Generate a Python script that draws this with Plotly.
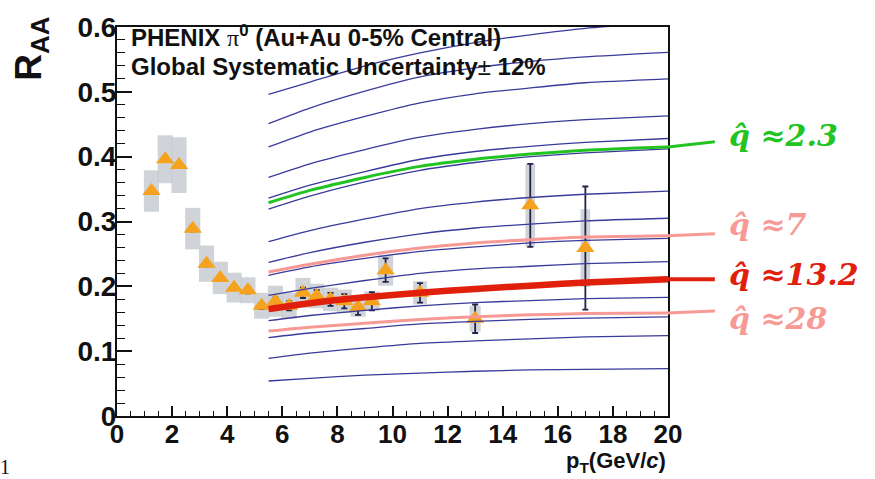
import plotly.graph_objects as go

# ---------------- data ----------------
pt = [1.25, 1.75, 2.25, 2.75, 3.25, 3.75, 4.25, 4.75, 5.25, 5.75, 6.25, 6.75,
      7.25, 7.75, 8.25, 8.75, 9.25, 9.75, 11, 13, 15, 17]
raa = [0.347, 0.396, 0.387, 0.289, 0.235, 0.213, 0.198, 0.194, 0.170, 0.177, 0.170, 0.190,
       0.185, 0.180, 0.177, 0.168, 0.177, 0.225, 0.190, 0.150, 0.325, 0.259]
stat_err = [0.004, 0.004, 0.004, 0.004, 0.004, 0.004, 0.004, 0.005, 0.005, 0.006, 0.007, 0.008,
            0.009, 0.010, 0.011, 0.012, 0.014, 0.018, 0.015, 0.022, 0.064, 0.095]
sys_err = [0.032, 0.037, 0.043, 0.032, 0.028, 0.025, 0.023, 0.020, 0.020, 0.024, 0.020, 0.023,
           0.019, 0.018, 0.018, 0.015, 0.015, 0.024, 0.018, 0.020, 0.064, 0.060]
sys_width = [0.55, 0.55, 0.55, 0.55, 0.55, 0.55, 0.55, 0.55, 0.55, 0.55, 0.55, 0.55,
             0.55, 0.55, 0.55, 0.55, 0.55, 0.55, 0.5, 0.4, 0.35, 0.35]

theory_pt = [5.5, 7, 9, 11, 13, 15, 17, 20]
blue_curves = [
    [0.496, 0.515, 0.540, 0.560, 0.576, 0.588, 0.598, 0.607],
    [0.451, 0.475, 0.501, 0.523, 0.537, 0.547, 0.554, 0.561],
    [0.415, 0.438, 0.462, 0.483, 0.497, 0.506, 0.514, 0.520],
    [0.368, 0.389, 0.411, 0.430, 0.442, 0.451, 0.457, 0.463],
    [0.336, 0.356, 0.377, 0.396, 0.408, 0.416, 0.422, 0.428],
    [0.319, 0.339, 0.361, 0.379, 0.391, 0.400, 0.406, 0.412],
    [0.269, 0.286, 0.304, 0.320, 0.330, 0.337, 0.342, 0.347],
    [0.237, 0.252, 0.268, 0.281, 0.290, 0.296, 0.301, 0.305],
    [0.217, 0.230, 0.243, 0.254, 0.261, 0.267, 0.271, 0.274],
    [0.186, 0.197, 0.209, 0.220, 0.227, 0.231, 0.235, 0.238],
    [0.147, 0.155, 0.163, 0.170, 0.175, 0.178, 0.181, 0.183],
    [0.121, 0.128, 0.135, 0.142, 0.146, 0.149, 0.151, 0.153],
    [0.089, 0.097, 0.105, 0.112, 0.116, 0.119, 0.122, 0.124],
    [0.054, 0.058, 0.063, 0.066, 0.069, 0.071, 0.072, 0.073],
]
qhat_2_3 = [0.329, 0.348, 0.368, 0.385, 0.396, 0.404, 0.410, 0.415]
qhat_7 = [0.222, 0.234, 0.248, 0.259, 0.267, 0.272, 0.276, 0.278]
qhat_13_2 = [0.165, 0.174, 0.183, 0.190, 0.196, 0.201, 0.206, 0.211]
qhat_28 = [0.131, 0.137, 0.143, 0.149, 0.153, 0.156, 0.158, 0.159]

# label connector end values (R_AA at the label) and label positions
label_names = ["q̂ ≈2.3", "q̂ ≈7", "q̂ ≈13.2", "q̂ ≈28"]
label_line_end = [0.423, 0.281, 0.211, 0.162]
label_y = [0.433, 0.295, 0.218, 0.151]
label_colors = ["#22c422", "#f79a96", "#e0200c", "#f79a96"]
curve_sets = [qhat_2_3, qhat_7, qhat_13_2, qhat_28]
curve_widths = [3, 3, 6.5, 3]

x_ticks = [0, 2, 4, 6, 8, 10, 12, 14, 16, 18, 20]
y_ticks = [0, 0.1, 0.2, 0.3, 0.4, 0.5, 0.6]
y_ticklabels = ["0", "0.1", "0.2", "0.3", "0.4", "0.5", "0.6"]

X_RANGE = [0, 20]
Y_RANGE = [0, 0.6]

# ---------------- figure ----------------
fig = go.Figure()

# systematic boxes
fig.add_trace(go.Bar(
    x=pt, y=[2 * s for s in sys_err], base=[r - s for r, s in zip(raa, sys_err)],
    width=sys_width, marker=dict(color="rgba(200,204,210,0.85)", line=dict(width=0)),
    hoverinfo="skip", showlegend=False))

# data points
fig.add_trace(go.Scatter(
    x=pt, y=raa, mode="markers",
    marker=dict(symbol="triangle-up", size=16, color="#f5a21e"),
    error_y=dict(type="data", array=stat_err, color="#23234a", thickness=1.8, width=3),
    showlegend=False))

# theory family
for curve in blue_curves:
    fig.add_trace(go.Scatter(x=theory_pt, y=curve, mode="lines",
                             line=dict(color="#3a3a9c", width=1.3, shape="spline", smoothing=0.6),
                             showlegend=False, hoverinfo="skip"))

for curve, col, w in zip(curve_sets, label_colors, curve_widths):
    fig.add_trace(go.Scatter(x=theory_pt, y=curve, mode="lines",
                             line=dict(color=col, width=w, shape="spline", smoothing=0.6),
                             showlegend=False, hoverinfo="skip"))


def xp(v):
    return (v - X_RANGE[0]) / (X_RANGE[1] - X_RANGE[0])


def yp(v):
    return (v - Y_RANGE[0]) / (Y_RANGE[1] - Y_RANGE[0])


shapes = []
annotations = []
for curve, end, ly, name, col, w in zip(curve_sets, label_line_end, label_y, label_names,
                                        label_colors, curve_widths):
    shapes.append(dict(type="line", xref="paper", yref="paper",
                       x0=xp(20), y0=yp(curve[-1]), x1=1.085, y1=yp(end),
                       line=dict(color=col, width=w if w < 5 else 4)))
    annotations.append(dict(xref="paper", yref="y", x=1.107, y=ly, xanchor="left",
                            yanchor="middle", showarrow=False, text="<i>" + name + "</i>",
                            font=dict(family="DejaVu Serif", size=30, color=col, weight="bold")))

bold_sans = dict(family="Liberation Sans", color="#111", weight="bold")
annotations += [
    dict(xref="paper", yref="paper", x=0.022, y=0.978, xanchor="left", yanchor="middle",
         showarrow=False,
         text="PHENIX <span style='font-family:Liberation Serif;font-weight:normal'>π</span><sup>0</sup> (Au+Au 0-5% Central)",
         font=dict(size=24, **bold_sans)),
    dict(xref="paper", yref="paper", x=0.022, y=0.898, xanchor="left", yanchor="middle",
         showarrow=False,
         text="Global Systematic Uncertainty<span style='font-weight:normal'>±</span> 12%",
         font=dict(size=24, **bold_sans)),
    dict(xref="paper", yref="paper", x=-0.155, y=0.943, xanchor="center", yanchor="middle",
         showarrow=False, textangle=-90, text="R<sub>AA</sub>",
         font=dict(size=37, **bold_sans)),
    dict(xref="paper", yref="paper", x=1.0, y=-0.117, xanchor="right", yanchor="middle",
         showarrow=False, text="p<sub>T</sub>(GeV/<i>c</i>)",
         font=dict(size=22, **bold_sans)),
    dict(xref="paper", yref="paper", x=-0.203, y=-0.13, xanchor="center", yanchor="middle",
         showarrow=False, text="1",
         font=dict(family="Liberation Serif", size=20, color="#111")),
]

fig.update_layout(
    width=875, height=479,
    margin=dict(l=117, r=207, t=13, b=63),
    paper_bgcolor="white", plot_bgcolor="white",
    barmode="overlay", showlegend=False,
    shapes=shapes, annotations=annotations,
    xaxis=dict(range=X_RANGE, tickvals=x_ticks, ticktext=[str(v) for v in x_ticks],
               ticks="inside", ticklen=10, tickwidth=1.5, tickcolor="#111",
               minor=dict(dtick=0.5, ticks="inside", ticklen=5, tickwidth=1.2, tickcolor="#111"),
               showline=True, linecolor="#111", linewidth=2, mirror=True,
               showgrid=False, zeroline=False, ticklabeloverflow="allow",
               ticklabelstandoff=-6,
               tickfont=dict(size=26, **bold_sans)),
    yaxis=dict(range=Y_RANGE, tickvals=y_ticks, ticktext=y_ticklabels,
               ticks="inside", ticklen=15, tickwidth=1.5, tickcolor="#111",
               minor=dict(dtick=0.02, ticks="inside", ticklen=8, tickwidth=1.2, tickcolor="#111"),
               showline=True, linecolor="#111", linewidth=2, mirror=True,
               showgrid=False, zeroline=False, ticklabeloverflow="allow",
               ticklabelstandoff=-7,
               tickfont=dict(size=28, **bold_sans)),
)

fig.write_html("out.html", config={"displayModeBar": False},
               post_script="document.body.style.margin='0';")
